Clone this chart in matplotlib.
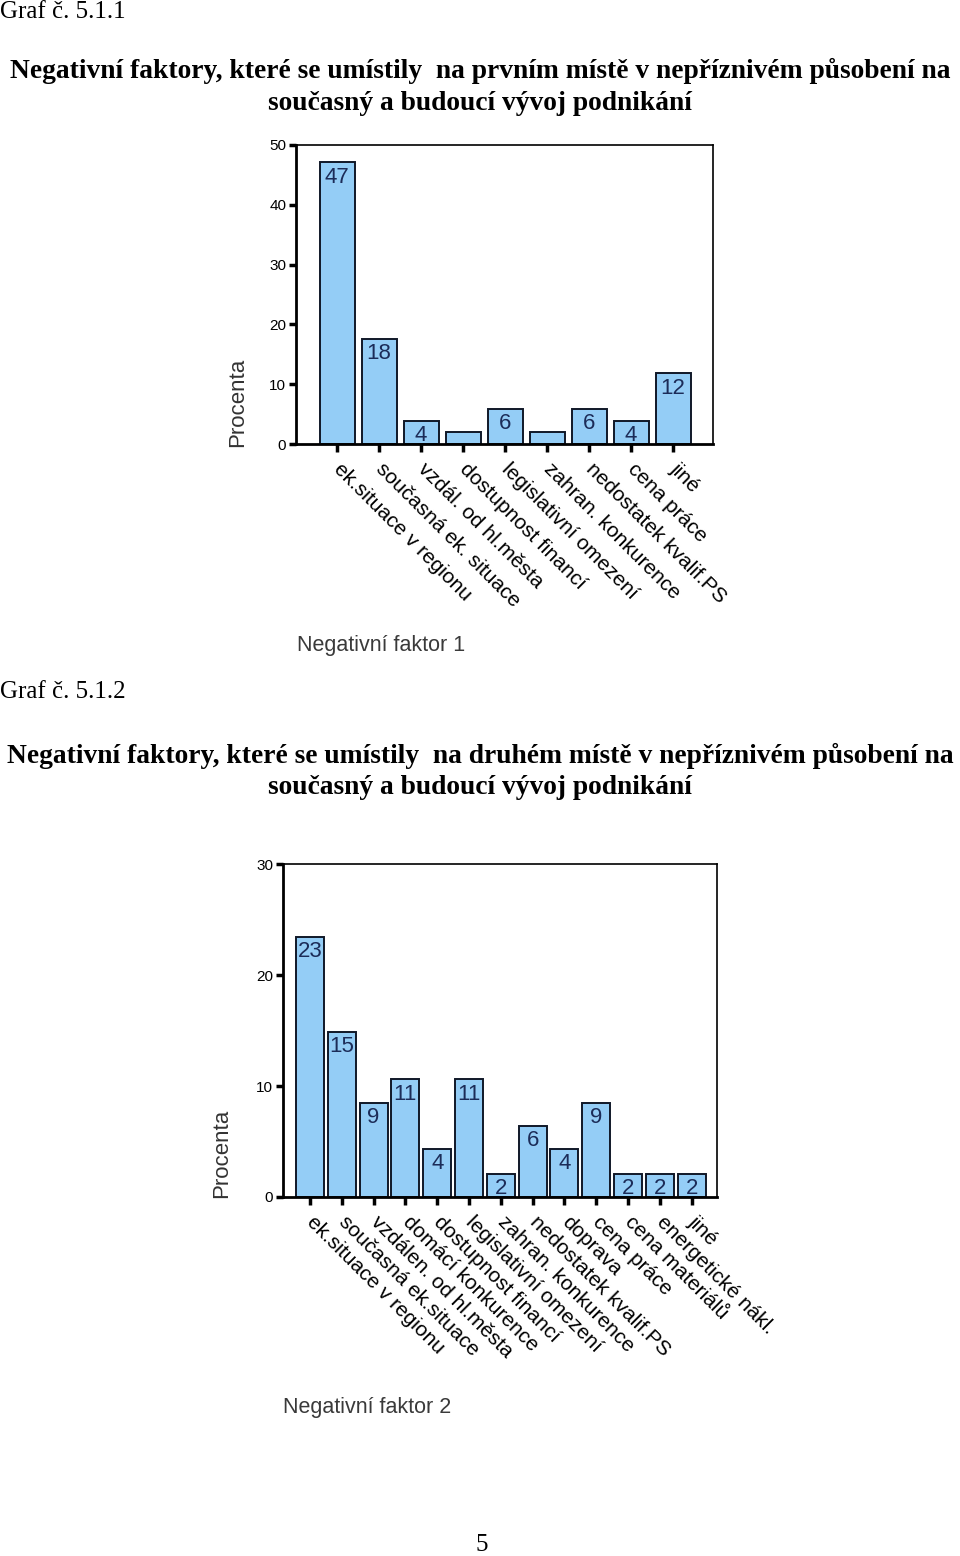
import matplotlib.pyplot as plt

# Graf 5.1.1 - první místo
faktory1 = ['ek.situace v regionu', 'současná ek. situace', 'vzdál. od hl.města',
            'dostupnost financí', 'legislativní omezení', 'zahran. konkurence',
            'nedostatek kvalif.PS', 'cena práce', 'jiné']
procenta1 = [47.1, 17.6, 3.9, 2.0, 5.9, 2.0, 5.9, 3.9, 11.8]
popisky1 = ['47', '18', '4', '', '6', '', '6', '4', '12']

# Graf 5.1.2 - druhé místo
faktory2 = ['ek.situace v regionu', 'současná ek.situace', 'vzdálen. od hl.města',
            'domácí konkurence', 'dostupnost financí', 'legislativní omezení',
            'zahran. konkurence', 'nedostatek kvalif.PS', 'doprava', 'cena práce',
            'cena materiálů', 'energetické nákl.', 'jiné']
procenta2 = [23.4, 14.9, 8.5, 10.6, 4.3, 10.6, 2.1, 6.4, 4.3, 8.5, 2.1, 2.1, 2.1]
popisky2 = ['23', '15', '9', '11', '4', '11', '2', '6', '4', '9', '2', '2', '2']

barva = '#94cdf6'
sans = 'Liberation Sans'
serif = 'Liberation Serif'

fig = plt.figure(figsize=(9.6, 15.56), dpi=100)


def graf(ax, faktory, hodnoty, popisky, ymax, krok, sirka, xlim):
    x = list(range(len(faktory)))
    bars = ax.bar(x, hodnoty, width=sirka, color=barva, edgecolor='#101828', linewidth=1.4)
    for b, t in zip(bars, popisky):
        if t:
            ax.annotate(t, (b.get_x() + b.get_width() / 2, b.get_height()),
                        xytext=(0, -3), textcoords='offset points',
                        ha='center', va='top', fontsize=16, color='#1c2c58', family=sans)
    ax.set_xlim(*xlim)
    ax.set_ylim(0, ymax)
    ax.set_yticks(range(0, ymax + 1, krok))
    ax.set_xticks(x)
    ax.set_xticklabels(faktory, rotation=-45, ha='left', va='center',
                       rotation_mode='anchor', fontsize=15, family=sans)
    ax.tick_params(axis='y', direction='out', length=5, width=2.5, labelsize=11, pad=2)
    ax.tick_params(axis='x', direction='out', length=6, width=2.5, pad=10)
    for lab in ax.get_yticklabels():
        lab.set_family(sans)
    for s in ax.spines.values():
        s.set_linewidth(1.2)
    ax.spines['left'].set_linewidth(2)
    ax.spines['bottom'].set_linewidth(2)
    ax.set_ylabel('Procenta', fontsize=16, family=sans, color='#333333')


ax1 = fig.add_axes([296 / 960, 1 - 444 / 1556, 417 / 960, 299 / 1556])
graf(ax1, faktory1, procenta1, popisky1, 50, 10, 0.83, (-0.98, 8.95))
ax1.yaxis.set_label_coords(-0.115, 0.14)

ax2 = fig.add_axes([283 / 960, 1 - 1197 / 1556, 434 / 960, 333 / 1556])
graf(ax2, faktory2, procenta2, popisky2, 30, 10, 0.88, (-0.85, 12.8))
ax2.yaxis.set_label_coords(-0.117, 0.13)

# texty stránky
fig.text(0.0, 1 - 12 / 1556, 'Graf č. 5.1.1', family=serif, fontsize=18, va='center', ha='left')
fig.text(0.5, 1 - 71 / 1556, 'Negativní faktory, které se umístily  na prvním místě v nepříznivém působení na',
         family=serif, fontsize=19.8, weight='bold', ha='center', va='center')
fig.text(0.5, 1 - 103 / 1556, 'současný a budoucí vývoj podnikání',
         family=serif, fontsize=19.8, weight='bold', ha='center', va='center')
fig.text(297 / 960, 1 - 645 / 1556, 'Negativní faktor 1', family=sans, fontsize=15.5,
         color='#3a3a3a', ha='left', va='center')

fig.text(0.0, 1 - 692 / 1556, 'Graf č. 5.1.2', family=serif, fontsize=18, va='center', ha='left')
fig.text(0.5, 1 - 756 / 1556, 'Negativní faktory, které se umístily  na druhém místě v nepříznivém působení na',
         family=serif, fontsize=19.8, weight='bold', ha='center', va='center')
fig.text(0.5, 1 - 788 / 1556, 'současný a budoucí vývoj podnikání',
         family=serif, fontsize=19.8, weight='bold', ha='center', va='center')
fig.text(283 / 960, 1 - 1407 / 1556, 'Negativní faktor 2', family=sans, fontsize=15.5,
         color='#3a3a3a', ha='left', va='center')

fig.text(482 / 960, 1 - 1545 / 1556, '5', family=serif, fontsize=18, ha='center', va='center')

fig.savefig('out.png', dpi=100)
